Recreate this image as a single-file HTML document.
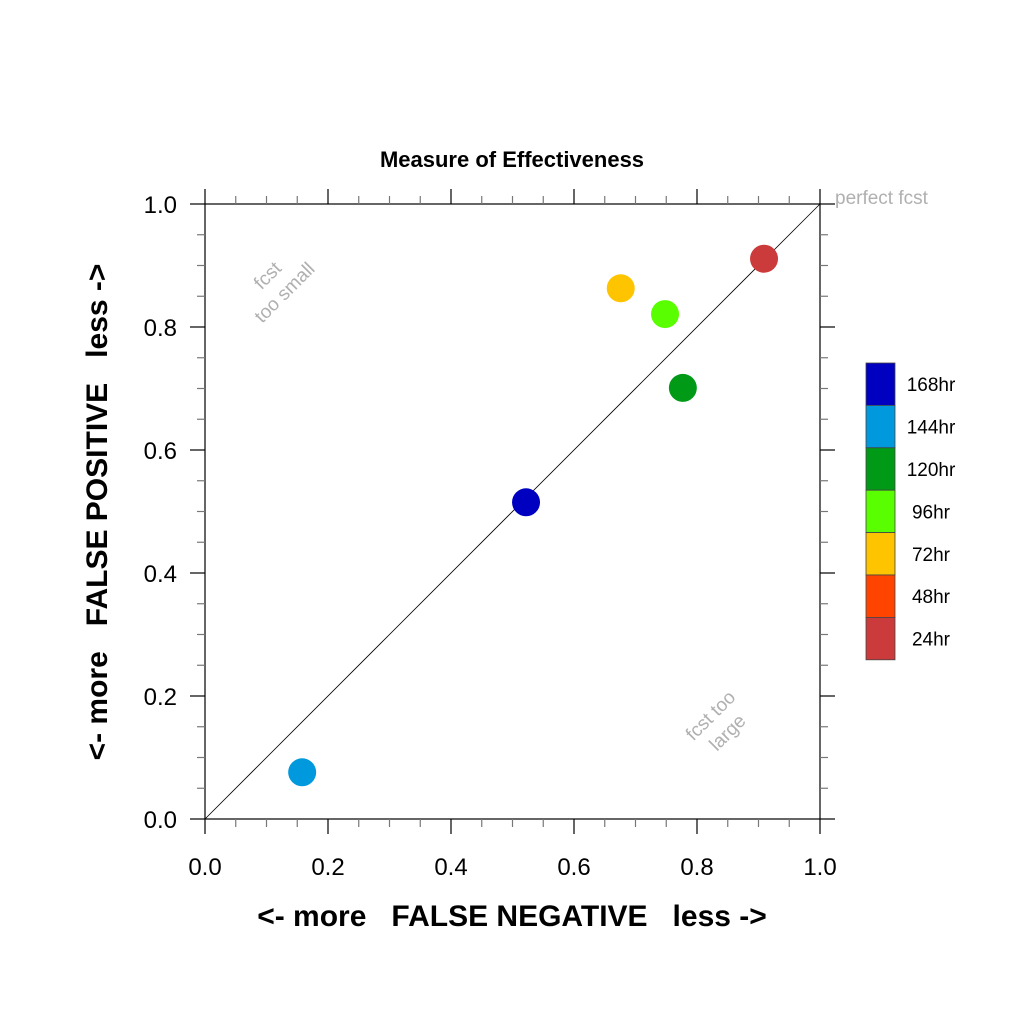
<!DOCTYPE html>
<html><head><meta charset="utf-8"><style>
body{margin:0;background:#fff;}
svg text{font-family:"Liberation Sans",sans-serif;}
</style></head><body>
<svg id="c" width="1024" height="1024" xmlns="http://www.w3.org/2000/svg">
<text x="512" y="167" text-anchor="middle" font-size="22" font-weight="bold">Measure of Effectiveness</text>
<line x1="205" y1="819" x2="820" y2="204" stroke="#000" stroke-width="0.8"/>
<rect x="205" y="204" width="615" height="615" fill="none" stroke="#000" stroke-width="1.2"/>
<g id="ticks"></g>
<g id="pts"></g>
<text x="835" y="204" font-size="19" fill="#b0b0b0">perfect fcst</text>
<text transform="translate(272,280) rotate(-45)" font-size="19" fill="#b0b0b0" text-anchor="middle"><tspan x="0" y="0">fcst</tspan><tspan x="0" y="24">too small</tspan></text>
<text transform="translate(715,720) rotate(-45)" font-size="19" fill="#b0b0b0" text-anchor="middle"><tspan x="0" y="0">fcst too</tspan><tspan x="0" y="24">large</tspan></text>
<text x="512" y="926" text-anchor="middle" font-size="30" font-weight="bold" xml:space="preserve">&lt;- more   FALSE NEGATIVE   less -&gt;</text>
<text transform="translate(107,512) rotate(-90)" text-anchor="middle" font-size="30" font-weight="bold" xml:space="preserve">&lt;- more   FALSE POSITIVE   less -&gt;</text>
<g id="legend"></g>
</svg>
<script>
const labels=["24hr","48hr","72hr","96hr","120hr","144hr","168hr"];
const colors=["#cc3b3b","#ff4400","#ffc400","#59ff00","#009a17","#0099dd","#0000c0"];
const xVals=[0.909,null,0.676,0.748,0.777,0.158,0.522];
const yVals=[0.911,null,0.863,0.821,0.701,0.076,0.515];
const tickLabels=["0.0","0.2","0.4","0.6","0.8","1.0"];
const NS="http://www.w3.org/2000/svg";
const X0=205,Y0=819,W=615;
const sx=v=>X0+v*W, sy=v=>Y0-v*W;
function mk(t,a,p){const e=document.createElementNS(NS,t);for(const k in a)e.setAttribute(k,a[k]);p.appendChild(e);return e;}
const tk=document.getElementById('ticks');
for(let i=0;i<=20;i++){
 const v=i/20,maj=i%4==0,L=maj?15:8,col=maj?"#000":"#777";
 const px=sx(v),py=sy(v);
 let l=mk('line',{x1:px,y1:Y0,x2:px,y2:Y0+L,stroke:col,'stroke-width':1.2},tk);
 
 l=mk('line',{x1:px,y1:204,x2:px,y2:204-L,stroke:col,'stroke-width':1.2},tk);
 
 l=mk('line',{x1:X0,y1:py,x2:X0-L,y2:py,stroke:col,'stroke-width':1.2},tk);
 
 l=mk('line',{x1:820,y1:py,x2:820+L,y2:py,stroke:col,'stroke-width':1.2},tk);
 
}
tickLabels.forEach((s,i)=>{
 const v=i/5;
 let t=mk('text',{x:sx(v),y:875,'text-anchor':'middle','font-size':24},tk);t.textContent=s;
 
 t=mk('text',{x:177,y:sy(v)+9,'text-anchor':'end','font-size':24},tk);t.textContent=s;
 
});
const pg=document.getElementById('pts');
labels.forEach((n,i)=>{
 if(xVals[i]==null)return;
 const c=mk('circle',{cx:sx(xVals[i]),cy:sy(yVals[i]),r:14,fill:colors[i]},pg);
 
});
const lg=document.getElementById('legend');
const bh=42.4;
for(let k=0;k<7;k++){
 const i=6-k,y=363+k*bh;
 const r=mk('rect',{x:866,y:y,width:29,height:bh,fill:colors[i],stroke:'#444','stroke-width':0.8},lg);
 
 const t=mk('text',{x:931,y:y+bh/2+7,'text-anchor':'middle','font-size':19},lg);t.textContent=labels[i];
 
}
</script>
</body></html>
